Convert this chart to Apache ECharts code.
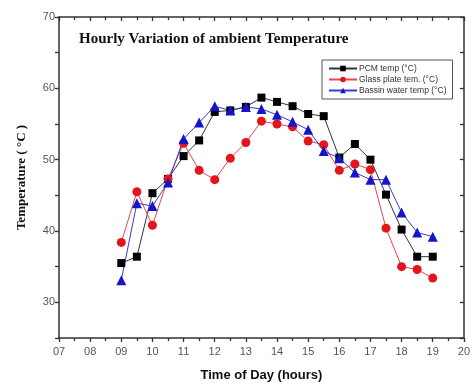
<!DOCTYPE html>
<html>
<head>
<meta charset="utf-8">
<script src="https://cdn.jsdelivr.net/npm/echarts@6/dist/echarts.min.js"></script>
<style>html,body{margin:0;padding:0;background:#fff}#c{width:473px;height:387px}</style>
</head>
<body>
<div id="c"></div>
<script>
const hours = [9, 9.5, 10, 10.5, 11, 11.5, 12, 12.5, 13, 13.5, 14, 14.5, 15, 15.5, 16, 16.5, 17, 17.5, 18, 18.5, 19];
const pcmTemp = [35.5, 36.4, 45.3, 47.3, 50.5, 52.7, 56.7, 56.9, 57.4, 58.7, 58.1, 57.5, 56.4, 56.1, 50.3, 52.2, 50.0, 45.1, 40.2, 36.4, 36.4];
const glassTemp = [38.4, 45.5, 40.8, 47.3, 52.3, 48.5, 47.2, 50.2, 52.4, 55.4, 55.0, 54.6, 52.6, 52.1, 48.5, 49.4, 48.6, 40.4, 35.0, 34.6, 33.4];
const basinTemp = [33.1, 43.9, 43.5, 46.8, 52.9, 55.2, 57.5, 56.9, 57.4, 57.1, 56.3, 55.3, 54.2, 51.2, 50.2, 48.2, 47.2, 47.2, 42.6, 39.8, 39.2];
const seriesNames = ['PCM temp (°C)', 'Glass plate tem. (°C)', 'Bassin water temp (°C)'];
const xTickLabels = ['07','08','09','10','11','12','13','14','15','16','17','18','19','20'];
const yTickLabels = ['30','40','50','60','70'];

const pair = (arr) => hours.map((h, i) => [h, arr[i]]);
const axisColor = '#333';
const chart = echarts.init(document.getElementById('c'));
chart.setOption({
  animation: false,
  backgroundColor: '#fff',
  title: {
    text: 'Hourly Variation of ambient Temperature',
    left: 74, top: 27,
    textStyle: { fontFamily: 'Liberation Serif', fontWeight: 'bold', fontSize: 15, color: '#111' }
  },
  legend: {
    orient: 'vertical',
    left: 322, top: 60,
    padding: [4, 6, 4, 6],
    itemGap: 2,
    itemWidth: 28, itemHeight: 7,
    borderColor: '#555', borderWidth: 1,
    textStyle: { fontFamily: 'Liberation Sans', fontSize: 8.5, color: '#333', padding: [0, 0, 0, -3] },
    data: seriesNames
  },
  grid: { left: 59, right: 8, top: 17, bottom: 47, containLabel: false },
  xAxis: [{
    type: 'value', min: 7, max: 20, interval: 1,
    name: 'Time of Day (hours)', nameLocation: 'middle', nameGap: 31,
    nameTextStyle: { fontFamily: 'Liberation Sans', fontWeight: 'bold', fontSize: 13, color: '#111' },
    axisLine: { lineStyle: { color: axisColor, width: 1.5 } },
    axisTick: { inside: false, length: 4, lineStyle: { color: axisColor, width: 1.3 } },
    minorTick: { show: true, splitNumber: 2, length: 3, lineStyle: { color: axisColor, width: 1.3 } },
    axisLabel: { margin: 8, fontFamily: 'Liberation Sans', fontSize: 11, color: '#555',
      formatter: (v) => xTickLabels[Math.round(v - 7)] },
    splitLine: { show: false }
  }, {
    type: 'value', min: 7, max: 20, interval: 1, position: 'top',
    axisLine: { lineStyle: { color: axisColor, width: 1.5 } },
    axisTick: { inside: true, length: 4, lineStyle: { color: axisColor, width: 1.3 } },
    minorTick: { show: true, splitNumber: 2, length: 3, lineStyle: { color: axisColor, width: 1.3 } },
    axisLabel: { show: false }, splitLine: { show: false }
  }],
  yAxis: [{
    type: 'value', min: 25, max: 70, interval: 5,
    name: 'Temperature ( °C )', nameLocation: 'middle', nameGap: 31,
    nameTextStyle: { fontFamily: 'Liberation Serif', fontWeight: 'bold', fontSize: 13, color: '#111' },
    axisLine: { show: true, lineStyle: { color: axisColor, width: 1.5 } },
    axisTick: { show: true, inside: false, length: 4, lineStyle: { color: axisColor, width: 1.3 } },
    axisLabel: { margin: 4, fontFamily: 'Liberation Sans', fontSize: 11, color: '#555',
      formatter: (v) => { const i = yTickLabels.indexOf(String(v)); return i >= 0 ? yTickLabels[i] : ''; } },
    splitLine: { show: false }
  }, {
    type: 'value', min: 25, max: 70, interval: 5, position: 'right',
    axisLine: { show: true, lineStyle: { color: axisColor, width: 1.5 } },
    axisTick: { show: true, inside: true, length: 4, lineStyle: { color: axisColor, width: 1.3 } },
    axisLabel: { show: false }, splitLine: { show: false }
  }],
  series: [
    { name: seriesNames[0], type: 'line', data: pair(pcmTemp), symbol: 'rect', symbolSize: 8,
      itemStyle: { color: '#000' }, lineStyle: { color: '#333', width: 1 } },
    { name: seriesNames[1], type: 'line', data: pair(glassTemp), symbol: 'circle', symbolSize: 9,
      itemStyle: { color: '#e3141c' }, lineStyle: { color: '#e5454c', width: 1 } },
    { name: seriesNames[2], type: 'line', data: pair(basinTemp), symbol: 'triangle', symbolSize: 10,
      itemStyle: { color: '#1414c8' }, lineStyle: { color: '#3a3ad8', width: 1 } }
  ]
});
</script>
</body>
</html>
